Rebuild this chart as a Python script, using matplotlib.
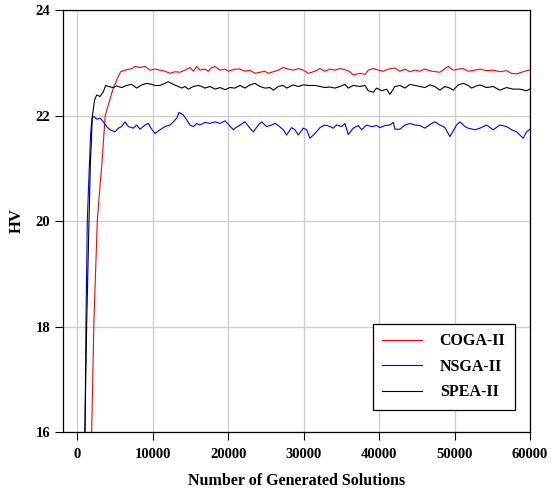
import matplotlib
matplotlib.use("Agg")
import matplotlib.pyplot as plt

plt.rcParams['font.family'] = ['Liberation Serif', 'DejaVu Serif']

# HV vs number of generated solutions
coga_x = [1850, 1900, 2200, 2650, 3000, 3230, 3540, 3700, 4100, 4770, 5300, 5740, 6320, 7200, 7650,
          8300, 8970, 9630, 10300, 10960, 11620, 12280, 12950, 13610, 14270, 14930, 15380, 15820,
          16260, 16920, 17360, 17800, 18250, 18910, 19570, 20010, 20900, 21560, 22220, 22880, 23550,
          24210, 24870, 25310, 25970, 26640, 27300, 27960, 28620, 29290, 29950, 30610, 31500, 32160,
          32820, 33480, 34150, 34810, 35690, 36130, 36575, 37460, 38120, 38560, 39225, 39890, 40550,
          41210, 42100, 42760, 43420, 44080, 44750, 45410, 46070, 46950, 48060, 48720, 49160, 49825,
          50490, 51150, 51810, 52700, 53360, 54240, 55120, 56010, 56890, 57560, 58220, 59100, 59540,
          60000]
coga_hv = [15.6, 16.0, 18.1, 20.0, 20.65, 21.03, 21.67, 22.0, 22.2, 22.52, 22.7, 22.83, 22.86, 22.89,
           22.93, 22.91, 22.93, 22.86, 22.88, 22.86, 22.84, 22.80, 22.83, 22.82, 22.86, 22.91, 22.84,
           22.93, 22.86, 22.88, 22.84, 22.91, 22.93, 22.86, 22.88, 22.84, 22.88, 22.88, 22.84, 22.86,
           22.80, 22.82, 22.84, 22.80, 22.83, 22.86, 22.91, 22.88, 22.86, 22.89, 22.86, 22.80, 22.84,
           22.89, 22.84, 22.88, 22.86, 22.89, 22.86, 22.83, 22.77, 22.80, 22.78, 22.86, 22.89, 22.86,
           22.84, 22.88, 22.90, 22.84, 22.88, 22.83, 22.86, 22.84, 22.88, 22.84, 22.82, 22.89, 22.93,
           22.86, 22.88, 22.89, 22.84, 22.86, 22.88, 22.85, 22.86, 22.83, 22.85, 22.80, 22.79, 22.83,
           22.85, 22.86]

nsga_x = [950, 1020, 1150, 1325, 1590, 1775, 1950, 2255, 2570, 3010, 3450, 3890, 4330, 4995, 5430,
          5880, 6320, 6760, 7420, 7870, 8310, 8970, 9410, 9850, 10300, 10960, 11620, 12280, 12725,
          13170, 13480, 14050, 14490, 14930, 15380, 15820, 16260, 16920, 17580, 18250, 18910, 19570,
          20100, 20675, 20900, 21560, 22220, 22880, 23325, 23990, 24430, 25090, 25750, 26200, 26640,
          27300, 27740, 28400, 28850, 29290, 29950, 30390, 30830, 31500, 32160, 32820, 33480, 33925,
          34365, 35030, 35470, 35910, 36575, 37240, 37680, 38340, 39005, 39670, 40110, 40770, 41430,
          41875, 42100, 42760, 43420, 44080, 44750, 45410, 46070, 46950, 47395, 48060, 48720, 49380,
          49825, 50265, 50710, 51370, 51810, 52700, 53360, 54240, 55120, 56010, 56890, 57560, 58220,
          59100, 59540, 60000]
nsga_hv = [15.6, 16.0, 18.12, 20.02, 21.03, 21.67, 21.95, 21.98, 21.93, 21.95, 21.88, 21.79, 21.73,
           21.69, 21.76, 21.79, 21.88, 21.79, 21.76, 21.82, 21.74, 21.82, 21.85, 21.74, 21.66, 21.73,
           21.79, 21.82, 21.88, 21.95, 22.06, 22.01, 21.92, 21.82, 21.79, 21.85, 21.82, 21.87, 21.85,
           21.88, 21.85, 21.90, 21.82, 21.73, 21.76, 21.82, 21.88, 21.76, 21.69, 21.82, 21.88, 21.79,
           21.82, 21.85, 21.81, 21.73, 21.63, 21.77, 21.73, 21.63, 21.76, 21.73, 21.57, 21.66, 21.77,
           21.82, 21.79, 21.76, 21.82, 21.79, 21.85, 21.64, 21.76, 21.81, 21.73, 21.82, 21.79, 21.81,
           21.77, 21.81, 21.82, 21.87, 21.74, 21.74, 21.82, 21.85, 21.82, 21.81, 21.76, 21.85, 21.88,
           21.82, 21.77, 21.60, 21.71, 21.82, 21.88, 21.79, 21.76, 21.73, 21.76, 21.82, 21.73, 21.82,
           21.79, 21.73, 21.69, 21.57, 21.69, 21.74]

spea_x = [950, 1000, 1250, 1550, 1720, 2000, 2300, 2570, 3010, 3450, 3750, 4110, 4770, 5210, 5880,
          6540, 7200, 7870, 8530, 9190, 9850, 10300, 10960, 11620, 12060, 12725, 13390, 13830, 14270,
          14710, 15380, 16040, 16480, 16920, 17580, 18250, 18910, 19570, 20230, 20900, 21560, 22220,
          22880, 23550, 24210, 24870, 25530, 25970, 26640, 27300, 27740, 28620, 29290, 29950, 30610,
          31500, 32160, 32820, 33480, 34150, 34810, 35470, 35910, 36575, 37460, 38120, 38560, 39225,
          39670, 40330, 40990, 41430, 42100, 42760, 43420, 44080, 44750, 45410, 46070, 46730, 47395,
          48060, 48720, 49380, 49825, 50490, 51150, 51810, 52255, 52700, 53360, 54240, 55120, 56010,
          56890, 57770, 58660, 59540, 60000]
spea_hv = [15.6, 16.0, 18.12, 20.02, 21.03, 22.0, 22.3, 22.39, 22.36, 22.45, 22.57, 22.55, 22.53,
           22.56, 22.53, 22.57, 22.59, 22.52, 22.58, 22.61, 22.59, 22.57, 22.57, 22.61, 22.64, 22.59,
           22.55, 22.52, 22.55, 22.50, 22.55, 22.57, 22.55, 22.52, 22.55, 22.50, 22.53, 22.49, 22.53,
           22.52, 22.57, 22.52, 22.58, 22.61, 22.55, 22.52, 22.53, 22.48, 22.55, 22.57, 22.52, 22.58,
           22.55, 22.58, 22.57, 22.57, 22.55, 22.53, 22.54, 22.52, 22.55, 22.59, 22.52, 22.57, 22.55,
           22.57, 22.47, 22.44, 22.52, 22.47, 22.50, 22.40, 22.55, 22.57, 22.52, 22.59, 22.57, 22.55,
           22.53, 22.58, 22.55, 22.48, 22.55, 22.52, 22.48, 22.58, 22.61, 22.57, 22.52, 22.55, 22.58,
           22.53, 22.55, 22.48, 22.53, 22.50, 22.50, 22.47, 22.50]

fig = plt.figure(figsize=(5.51, 4.93), dpi=100)
ax = fig.add_axes([0.1143, 0.1237, 0.8476, 0.856])

ax.plot(coga_x, coga_hv, color='red', lw=0.8, label='COGA-II')
ax.plot(nsga_x, nsga_hv, color='blue', lw=0.8, label='NSGA-II')
ax.plot(spea_x, spea_hv, color='black', lw=0.8, label='SPEA-II')

ax.set_xlim(-1900, 60000)
ax.set_ylim(16, 24)
ax.set_xticks(range(0, 60001, 10000))
ax.set_yticks([16, 18, 20, 22, 24])
ax.grid(True, color='#cfcfcf', lw=1)
ax.set_axisbelow(True)

ax.tick_params(direction='out', length=5.5, width=0.8, labelsize=10.5, pad=3.5)
ax.tick_params(axis='x', pad=6)
for lbl in ax.get_xticklabels() + ax.get_yticklabels():
    lbl.set_fontweight('bold')
for s in ax.spines.values():
    s.set_linewidth(0.9)

ax.set_xlabel('Number of Generated Solutions', fontsize=11.5, fontweight='bold', labelpad=9)
ax.set_ylabel('HV', fontsize=12, fontweight='bold', labelpad=8)

leg = ax.legend(loc='lower right', bbox_to_anchor=(0.968, 0.052), borderaxespad=0,
                prop={'size': 11.5, 'weight': 'bold'},
                fancybox=False, edgecolor='black', framealpha=1, handlelength=2.5,
                borderpad=0.6, labelspacing=0.6, handletextpad=1.1)
leg.get_frame().set_linewidth(0.9)

fig.savefig('out.png', dpi=100)
